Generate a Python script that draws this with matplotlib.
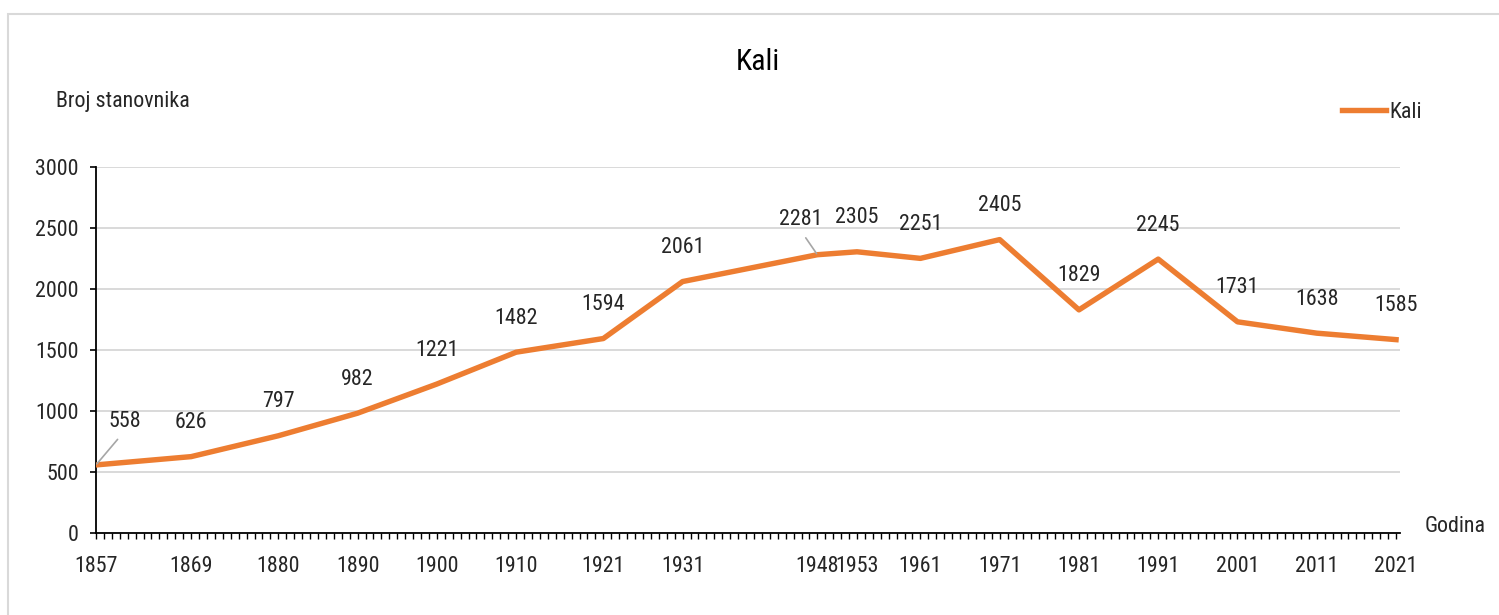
import matplotlib.pyplot as plt
from matplotlib.patches import Rectangle
from matplotlib.ticker import MultipleLocator

plt.rcParams['font.family'] = ['Liberation Sans Narrow', 'DejaVu Sans Condensed',
                               'Roboto Condensed', 'Liberation Sans', 'DejaVu Sans']

# census years and population of Kali
years = [1857, 1869, 1880, 1890, 1900, 1910, 1921, 1931, 1948, 1953,
         1961, 1971, 1981, 1991, 2001, 2011, 2021]
population = [558, 626, 797, 982, 1221, 1482, 1594, 2061, 2281, 2305,
              2251, 2405, 1829, 2245, 1731, 1638, 1585]
series_name = 'Kali'

orange = '#ED7D31'
grid_col = '#D9D9D9'
txt_col = '#262626'
fs = 15.8

fig = plt.figure(figsize=(14.99, 6.15), dpi=100)
ax = fig.add_axes([96/1499, 1-533/615, (1400-96)/1499, (533-167)/615])

line, = ax.plot(years, population, color=orange, lw=3.9,
                solid_joinstyle='round', label=series_name, zorder=3)

ax.set_xlim(1857, 2021.5)
ax.set_ylim(0, 3000)
ax.set_yticks(range(0, 3001, 500))
ax.set_xticks(years)
ax.set_xticklabels([str(y) for y in years])
ax.xaxis.set_minor_locator(MultipleLocator(1))

ax.yaxis.grid(True, color=grid_col, lw=1.4)
ax.set_axisbelow(True)
for s in ['top', 'right']:
    ax.spines[s].set_visible(False)
for s in ['left', 'bottom']:
    ax.spines[s].set_linewidth(1.3)
    ax.spines[s].set_color('black')

ax.tick_params(axis='y', length=4.5, width=1.2, pad=8, labelsize=fs, labelcolor=txt_col)
ax.tick_params(axis='x', which='both', length=4.5, width=1.0, pad=12, labelsize=fs, labelcolor=txt_col)

# data labels
for yr, val in zip(years, population):
    if yr == 1857:
        ax.annotate(str(val), (yr, val), xytext=(21, 31), textcoords='offset points',
                    ha='center', va='center', fontsize=fs, color=txt_col,
                    arrowprops=dict(arrowstyle='-', color='#A6A6A6', lw=1.2,
                                    relpos=(0.45, 0), shrinkA=4, shrinkB=1))
    elif yr == 1948:
        ax.annotate(str(val), (yr, val), xytext=(-12, 25), textcoords='offset points',
                    ha='center', va='center', fontsize=fs, color=txt_col,
                    arrowprops=dict(arrowstyle='-', color='#A6A6A6', lw=1.2,
                                    relpos=(0.5, 0), shrinkA=4, shrinkB=1))
    else:
        ax.annotate(str(val), (yr, val), xytext=(0, 24.5), textcoords='offset points',
                    ha='center', va='center', fontsize=fs, color=txt_col)

fig.text(758/1499, 1-62/615, 'Kali', ha='center', va='center', fontsize=21.5, color='black')
fig.text(56/1499, 1-102/615, 'Broj stanovnika', ha='left', va='center', fontsize=fs, color=txt_col)
fig.text(1425/1499, 1-527/615, 'Godina', ha='left', va='center', fontsize=fs, color=txt_col)

leg = fig.legend(handles=[line], loc='center left',
                 bbox_to_anchor=(1342/1499, 1-112/615), bbox_transform=fig.transFigure,
                 frameon=False, fontsize=fs, handlelength=2.0, handletextpad=0.15,
                 borderpad=0, borderaxespad=0)
for t in leg.get_texts():
    t.set_color(txt_col)

# outer chart frame
fig.add_artist(Rectangle((8/1499, -0.1), 1.2, (615-14)/615 + 0.1,
                         transform=fig.transFigure, fill=False, ec=grid_col, lw=1.5))

fig.savefig('out.png', dpi=100)
